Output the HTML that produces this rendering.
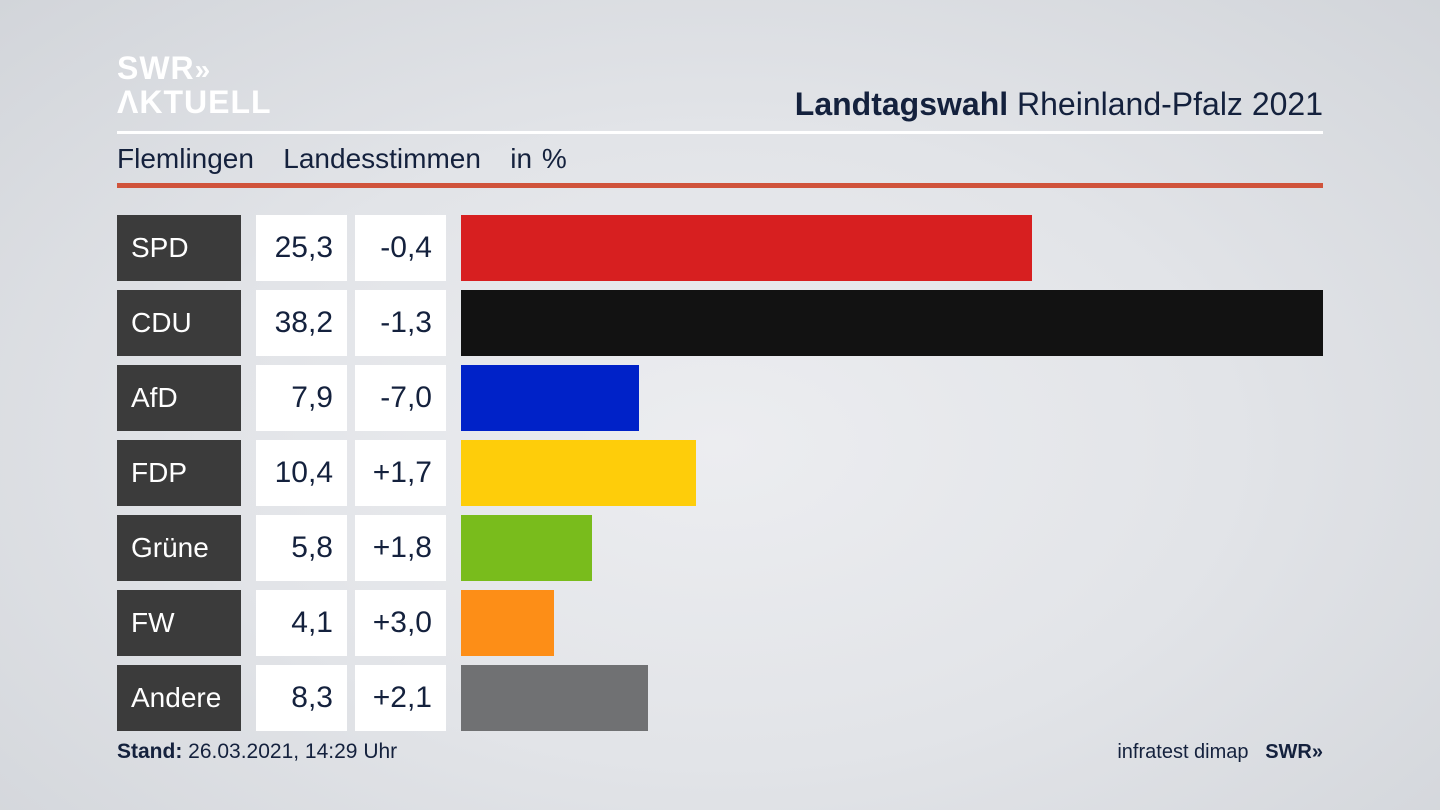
<!DOCTYPE html>
<html><head><meta charset="utf-8"><style>
body{margin:0;width:1440px;height:810px;overflow:hidden;font-family:"Liberation Sans",sans-serif;
background:radial-gradient(ellipse at 50% 55%,#ecedf0 0%,#e2e4e8 50%,#d2d5da 100%);position:relative;color:#14213d}
.a{position:absolute}
.lab{position:absolute;left:117px;width:124px;height:66px;background:#3b3b3b;color:#fff;font-size:28px;line-height:66px;box-sizing:border-box;padding-left:14px}
.v{position:absolute;width:91px;height:66px;background:#fff;font-size:30px;line-height:66px;text-align:right;box-sizing:border-box;padding-right:14px;color:#14213d}
.bar{position:absolute;left:461px;height:66px}
</style></head><body>
<div class="a" style="left:117px;top:52px;color:#fff;font-weight:bold;font-size:32px;line-height:32px;letter-spacing:1px">SWR<span style="font-size:28px">»</span><br>ΛKTUELL</div>
<div class="a" style="right:117px;top:86px;font-size:32px;color:#14213d"><b>Landtagswahl</b> Rheinland-Pfalz 2021</div>
<div class="a" style="left:117px;top:131px;width:1206px;height:3px;background:#fff"></div>
<div class="a" style="left:117px;top:143px;font-size:28px;word-spacing:2px">Flemlingen&nbsp;&nbsp; Landesstimmen&nbsp;&nbsp; in %</div>
<div class="a" style="left:117px;top:183px;width:1206px;height:5px;background:#d0533b"></div>

<div class="lab" style="top:215px">SPD</div><div class="v" style="left:256px;top:215px">25,3</div><div class="v" style="left:355px;top:215px">-0,4</div><div class="bar" style="top:215px;width:571px;background:#d71f20"></div>
<div class="lab" style="top:290px">CDU</div><div class="v" style="left:256px;top:290px">38,2</div><div class="v" style="left:355px;top:290px">-1,3</div><div class="bar" style="top:290px;width:862px;background:#121212"></div>
<div class="lab" style="top:365px">AfD</div><div class="v" style="left:256px;top:365px">7,9</div><div class="v" style="left:355px;top:365px">-7,0</div><div class="bar" style="top:365px;width:178px;background:#0022c8"></div>
<div class="lab" style="top:440px">FDP</div><div class="v" style="left:256px;top:440px">10,4</div><div class="v" style="left:355px;top:440px">+1,7</div><div class="bar" style="top:440px;width:235px;background:#fecd0a"></div>
<div class="lab" style="top:515px">Grüne</div><div class="v" style="left:256px;top:515px">5,8</div><div class="v" style="left:355px;top:515px">+1,8</div><div class="bar" style="top:515px;width:131px;background:#79bc1c"></div>
<div class="lab" style="top:590px">FW</div><div class="v" style="left:256px;top:590px">4,1</div><div class="v" style="left:355px;top:590px">+3,0</div><div class="bar" style="top:590px;width:93px;background:#fd8e17"></div>
<div class="lab" style="top:665px">Andere</div><div class="v" style="left:256px;top:665px">8,3</div><div class="v" style="left:355px;top:665px">+2,1</div><div class="bar" style="top:665px;width:187px;background:#707173"></div>

<div class="a" style="left:117px;top:740px;font-size:21px"><b>Stand:</b> 26.03.2021, 14:29 Uhr</div>
<div class="a" style="right:117px;top:741px;font-size:20px">infratest dimap&nbsp;&nbsp; <b>SWR»</b></div>
</body></html>
